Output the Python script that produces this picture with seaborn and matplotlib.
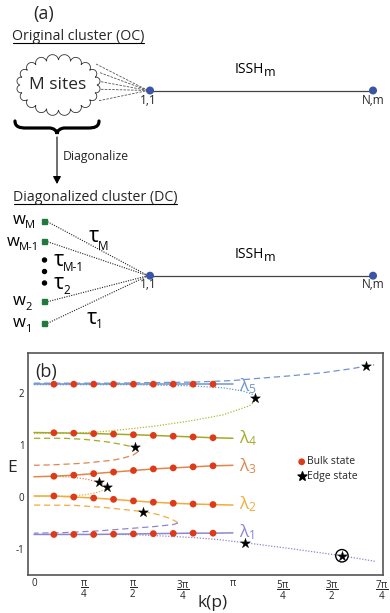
import numpy as np
import pandas as pd
import matplotlib
matplotlib.use("Agg")
import matplotlib.pyplot as plt
import seaborn as sns
from matplotlib.path import Path
from matplotlib.patches import PathPatch, Circle, Rectangle, FancyArrowPatch

# ---------------- data (k in units of pi) ----------------
k_band = [0.0, 0.1, 0.2, 0.3, 0.4, 0.5, 0.6, 0.7, 0.8, 0.9, 1.0]
E_lam1 = [-0.72, -0.72, -0.72, -0.72, -0.715, -0.71, -0.705, -0.70, -0.695, -0.695, -0.69]
E_lam2 = [0.02, 0.02, 0.00, -0.02, -0.045, -0.075, -0.10, -0.12, -0.135, -0.145, -0.155]
E_lam3 = [0.39, 0.40, 0.42, 0.45, 0.48, 0.51, 0.54, 0.56, 0.58, 0.60, 0.61]
E_lam4 = [1.24, 1.235, 1.228, 1.22, 1.21, 1.198, 1.185, 1.17, 1.155, 1.14, 1.13]
E_lam5 = [2.17, 2.17, 2.17, 2.17, 2.17, 2.17, 2.17, 2.17, 2.17, 2.17, 2.17]

# dashed / dotted branches (k/pi, E)
blue_dash_k = [0.0, 0.4, 0.8, 1.0, 1.12, 1.285, 1.45, 1.6, 1.67, 1.71]
blue_dash_E = [2.19, 2.19, 2.21, 2.24, 2.28, 2.33, 2.39, 2.47, 2.52, 2.54]
blue_dot_k = [0.0, 0.5, 0.78, 0.95, 1.05, 1.095, 1.113]
blue_dot_E = [2.16, 2.16, 2.14, 2.10, 2.04, 1.98, 1.90]
olive_dot_k = [1.113, 1.105, 1.08, 0.95, 0.78, 0.6, 0.43, 0.32, 0.2, 0.0]
olive_dot_E = [1.90, 1.82, 1.75, 1.58, 1.46, 1.36, 1.29, 1.25, 1.23, 1.22]
olive_dash_k = [0.0, 0.15, 0.25, 0.35, 0.43, 0.49, 0.515, 0.522]
olive_dash_E = [1.13, 1.13, 1.11, 1.07, 1.02, 0.97, 0.93, 0.87]
orange_dash_k = [0.522, 0.50, 0.45, 0.40, 0.25, 0.10, 0.0]
orange_dash_E = [0.87, 0.81, 0.75, 0.71, 0.65, 0.62, 0.61]
orange_dot_k = [0.1, 0.2, 0.27, 0.328, 0.355, 0.368]
orange_dot_E = [0.40, 0.38, 0.34, 0.28, 0.23, 0.19]
yellow_dot_k = [0.368, 0.36, 0.32, 0.25, 0.15, 0.0]
yellow_dot_E = [0.19, 0.15, 0.09, 0.04, 0.015, 0.01]
yellow_dash_k = [0.0, 0.2, 0.35, 0.45, 0.549, 0.616, 0.683, 0.716, 0.724]
yellow_dash_E = [-0.155, -0.16, -0.20, -0.24, -0.28, -0.33, -0.41, -0.475, -0.50]
purple_dash_k = [0.724, 0.70, 0.6, 0.5, 0.33, 0.15, 0.0]
purple_dash_E = [-0.50, -0.53, -0.57, -0.60, -0.65, -0.685, -0.695]
purple_dot_k = [0.4, 0.5, 0.65, 0.8, 0.93, 1.063, 1.285, 1.548, 1.72]
purple_dot_E = [-0.72, -0.725, -0.75, -0.78, -0.82, -0.88, -0.99, -1.13, -1.24]

edge_k = [1.67, 1.113, 0.507, 0.328, 0.368, 0.549, 1.063, 1.548]
edge_E = [2.52, 1.90, 0.956, 0.28, 0.19, -0.28, -0.88, -1.13]
circled_k = [1.548]
circled_E = [-1.13]

xtick_vals = [0, 0.25, 0.5, 0.75, 1.0, 1.25, 1.5, 1.75]
xtick_labels = ['0', r'$\dfrac{\mathrm{\pi}}{4}$', r'$\dfrac{\mathrm{\pi}}{2}$',
                r'$\dfrac{3\mathrm{\pi}}{4}$', r'$\mathrm{\pi}$',
                r'$\dfrac{5\mathrm{\pi}}{4}$', r'$\dfrac{3\mathrm{\pi}}{2}$',
                r'$\dfrac{7\mathrm{\pi}}{4}$']
ytick_vals = [-1, 0, 1, 2]
ytick_labels = ['-1', '0', '1', '2']

# ---------------- style ----------------
sns.set_theme(style="white")
plt.rcParams['font.family'] = ['Open Sans', 'DejaVu Sans']
plt.rcParams['mathtext.fontset'] = 'custom'
plt.rcParams['mathtext.rm'] = 'Open Sans'
plt.rcParams['mathtext.it'] = 'Open Sans'
plt.rcParams['mathtext.bf'] = 'Open Sans'
plt.rcParams['mathtext.sf'] = 'Open Sans'

C1 = '#8d86d2'
C2 = '#f0ac3c'
C3 = '#e0864c'
C4 = '#a5a928'
C5 = '#7094d0'
RED = '#dd3a1a'

fig = plt.figure(figsize=(3.9, 6.13), dpi=100)
renderer = fig.canvas.get_renderer()

# ---------------- panel (a): schematic, pixel coordinates ----------------
axa = fig.add_axes([0, 0, 1, 1], zorder=0)
axa.set_xlim(0, 390)
axa.set_ylim(613, 0)
axa.axis('off')


def sub_text(x, y, main, sub, fs, sfs, dy, color='black', dx=-0.5):
    t = axa.text(x, y, main, fontsize=fs, ha='left', va='baseline', color=color)
    bb = t.get_window_extent(renderer=renderer)
    x1 = axa.transData.inverted().transform((bb.x1, bb.y0))[0]
    axa.text(x1 + dx, y + dy, sub, fontsize=sfs, ha='left', va='baseline', color=color)


def underlined(x, y, s, fs):
    t = axa.text(x, y, s, fontsize=fs, ha='left', va='baseline')
    bb = t.get_window_extent(renderer=renderer)
    x0 = axa.transData.inverted().transform((bb.x0, bb.y0))[0]
    x1 = axa.transData.inverted().transform((bb.x1, bb.y0))[0]
    axa.plot([x0 + 0.5, x1 - 0.5], [y + 3.2, y + 3.2], color='black', lw=0.8)


axa.text(44, 13.5, '(a)', fontsize=13, ha='center', va='center')
underlined(12, 40, 'Original cluster (OC)', 10.2)

# cloud
cx, cy, ea, eb, nb = 58.5, 85, 38.5, 25, 20
th = np.linspace(0, 2 * np.pi, nb + 1)
verts = []
for i in range(nb):
    p0 = np.array([cx + ea * np.cos(th[i]), cy + eb * np.sin(th[i])])
    p1 = np.array([cx + ea * np.cos(th[i + 1]), cy + eb * np.sin(th[i + 1])])
    mid = (p0 + p1) / 2
    r = np.linalg.norm(p1 - p0) / 2
    a0 = np.arctan2(p0[1] - mid[1], p0[0] - mid[0])
    angs = np.linspace(a0, a0 - np.pi, 12)
    pts = np.c_[mid[0] + r * np.cos(angs), mid[1] + r * np.sin(angs)]
    if np.linalg.norm(pts[6] - [cx, cy]) < np.linalg.norm(mid - [cx, cy]):
        angs = np.linspace(a0, a0 + np.pi, 12)
        pts = np.c_[mid[0] + r * np.cos(angs), mid[1] + r * np.sin(angs)]
    verts.extend(pts.tolist())
axa.add_patch(plt.Polygon(verts, closed=True, facecolor='white', edgecolor='#333333', lw=0.6, zorder=2))
axa.text(58, 85, 'M sites', fontsize=12.5, ha='center', va='center', zorder=3)

fan_start = [(96, 64), (100, 72.7), (101, 81.7), (101, 89.3), (99, 100.7)]
for (xs, ys) in fan_start:
    axa.plot([xs, 148], [ys, 90.5], color='#555555', lw=0.6, ls=(0, (3, 1.5)), zorder=1)

for yl, ytxt, yiss in [(90.5, 93.5, 73.3), (275.7, 278.5, 258.3)]:
    axa.plot([150, 373], [yl, yl], color='#444444', lw=0.9, zorder=1)
    axa.add_patch(Circle((150, yl), 3.3, color='#3b55a6', zorder=4))
    axa.add_patch(Circle((373, yl), 3.3, color='#3b55a6', zorder=4))
    axa.text(148, ytxt, '1,1', fontsize=8.5, ha='center', va='top')
    axa.text(373, ytxt, 'N,m', fontsize=8.5, ha='center', va='top')
    sub_text(235, yiss, 'ISSH', 'm', 10, 9, 2.5, dx=-0.8)

# brace
bp = [(15, 121), (15, 127), (20, 128), (26, 128),
      (49, 128), (54, 128), (57, 131), (57, 134),
      (57, 131), (60, 128), (65, 128),
      (88, 128), (94, 128), (99, 127), (99, 121)]
codes = [Path.MOVETO, Path.CURVE4, Path.CURVE4, Path.CURVE4,
         Path.LINETO, Path.CURVE4, Path.CURVE4, Path.CURVE4,
         Path.CURVE4, Path.CURVE4, Path.CURVE4,
         Path.LINETO, Path.CURVE4, Path.CURVE4, Path.CURVE4]
axa.add_patch(PathPatch(Path(bp, codes), facecolor='none', edgecolor='black', lw=2.3, capstyle='round'))

axa.add_patch(FancyArrowPatch((57, 137), (57, 184), arrowstyle='-|>,head_length=3,head_width=1.6',
                              color='black', lw=0.8, mutation_scale=1.5, shrinkA=0, shrinkB=0))
axa.text(63, 160, 'Diagonalize', fontsize=8.8, ha='left', va='baseline')

underlined(13, 201, 'Diagonalized cluster (DC)', 10.2)

sq_y = [221.7, 241.7, 301.7, 323.3]
for ys in sq_y:
    axa.add_patch(Rectangle((42, ys - 2.7), 5.4, 5.4, color='#1f7a3c', zorder=4))
    axa.plot([47.5, 148], [ys, 275.7], color='#222222', lw=0.8, ls=(0, (1, 1.2)), zorder=1)
for yd in [260, 271.5, 283]:
    axa.add_patch(Circle((44.5, yd), 2.0, color='black'))

sub_text(13, 224.5, 'w', 'M', 12, 8, 4.0)
sub_text(7, 245.5, 'w', 'M-1', 12, 8, 4.0)
sub_text(13, 305, 'w', '2', 12, 8, 5.0)
sub_text(13, 327, 'w', '1', 12, 8, 5.0)
sub_text(89, 242, 'τ', 'M', 15.5, 8.5, 8.0, dx=-1.2)
sub_text(54, 266, 'τ', 'M-1', 15.5, 8.5, 5.0, dx=-1.2)
sub_text(54, 289, 'τ', '2', 15.5, 8.5, 4.5, dx=-1.2)
sub_text(87, 324, 'τ', '1', 15.5, 8.5, 4.0, dx=-1.2)

# ---------------- panel (b) ----------------
ax = fig.add_axes([28 / 390, 1 - 575 / 613, 355 / 390, 222 / 613], zorder=1)


def curve(k, E, color, ls, lw):
    df = pd.DataFrame({'k': k, 'E': E})
    sns.lineplot(data=df, x='k', y='E', sort=False, estimator=None, color=color,
                 linestyle=ls, lw=lw, ax=ax, zorder=2)


DASH = (0, (5, 3))
DOT = (0, (1, 1.3))
curve(blue_dash_k, blue_dash_E, C5, DASH, 0.9)
curve(blue_dot_k, blue_dot_E, C5, DOT, 0.9)
curve(olive_dot_k, olive_dot_E, '#b4b836', DOT, 0.9)
curve(olive_dash_k, olive_dash_E, C4, DASH, 0.9)
curve(orange_dash_k, orange_dash_E, C3, DASH, 0.9)
curve(orange_dot_k, orange_dot_E, C3, DOT, 0.9)
curve(yellow_dot_k, yellow_dot_E, C2, DOT, 0.9)
curve(yellow_dash_k, yellow_dash_E, C2, DASH, 0.9)
curve(purple_dash_k, purple_dash_E, C1, DASH, 0.9)
curve(purple_dot_k, purple_dot_E, C1, DOT, 0.9)

bands = [(E_lam1, C1, '1', -0.68), (E_lam2, C2, '2', -0.13), (E_lam3, C3, '3', 0.60),
         (E_lam4, C4, '4', 1.14), (E_lam5, C5, '5', 2.13)]
for E, c, lab, ylab in bands:
    curve(k_band, E, c, '-', 1.1)
    sns.scatterplot(x=k_band[1:10], y=E[1:10], color=RED, s=24, edgecolor='none', ax=ax, zorder=5)
    ax.text(1.03, ylab, r'$\mathrm{\lambda_{%s}}$' % lab, color=c, fontsize=12.5, ha='left', va='center')

sns.scatterplot(x=edge_k, y=edge_E, marker='*', color='black', s=55, edgecolor='black',
                linewidth=0.3, ax=ax, zorder=6)
sns.scatterplot(x=circled_k, y=circled_E, marker='o', facecolor='none', edgecolor='black',
                s=80, linewidth=1.0, ax=ax, zorder=6)

# legend
ax.scatter([0.771], [0.51], transform=ax.transAxes, color=RED, s=24, edgecolor='none', zorder=6)
ax.scatter([0.771], [0.445], transform=ax.transAxes, color='black', marker='*', s=45, zorder=6)
ax.text(0.787, 0.51, 'Bulk state', transform=ax.transAxes, fontsize=7.5, ha='left', va='center')
ax.text(0.787, 0.445, 'Edge state', transform=ax.transAxes, fontsize=7.5, ha='left', va='center')

ax.text(0.02, 0.915, '(b)', transform=ax.transAxes, fontsize=13, ha='left', va='center')

ax.set_xlim(-6 / 199.2, 349.5 / 199.2)
ax.set_ylim(-1.5, 2.77)
ax.set_xticks(xtick_vals)
ax.set_xticklabels(xtick_labels, fontsize=7)
ax.set_yticks(ytick_vals)
ax.set_yticklabels(ytick_labels, fontsize=7)
ax.tick_params(direction='in', length=2.5, width=0.6, pad=2.5, color='#333333')
ax.tick_params(axis='x', pad=2.5)
ax.set_xlabel('k(p)', fontsize=12.5, va='center')
ax.xaxis.set_label_coords(0.52, -0.125)
ax.set_ylabel('E', fontsize=12.5, rotation=0, va='center', ha='center')
ax.yaxis.set_label_coords(-0.045, 0.48)
for sp in ax.spines.values():
    sp.set_color('#555555')
    sp.set_linewidth(1.2)
    sp.set_visible(True)

fig.savefig('out.png', dpi=100)
